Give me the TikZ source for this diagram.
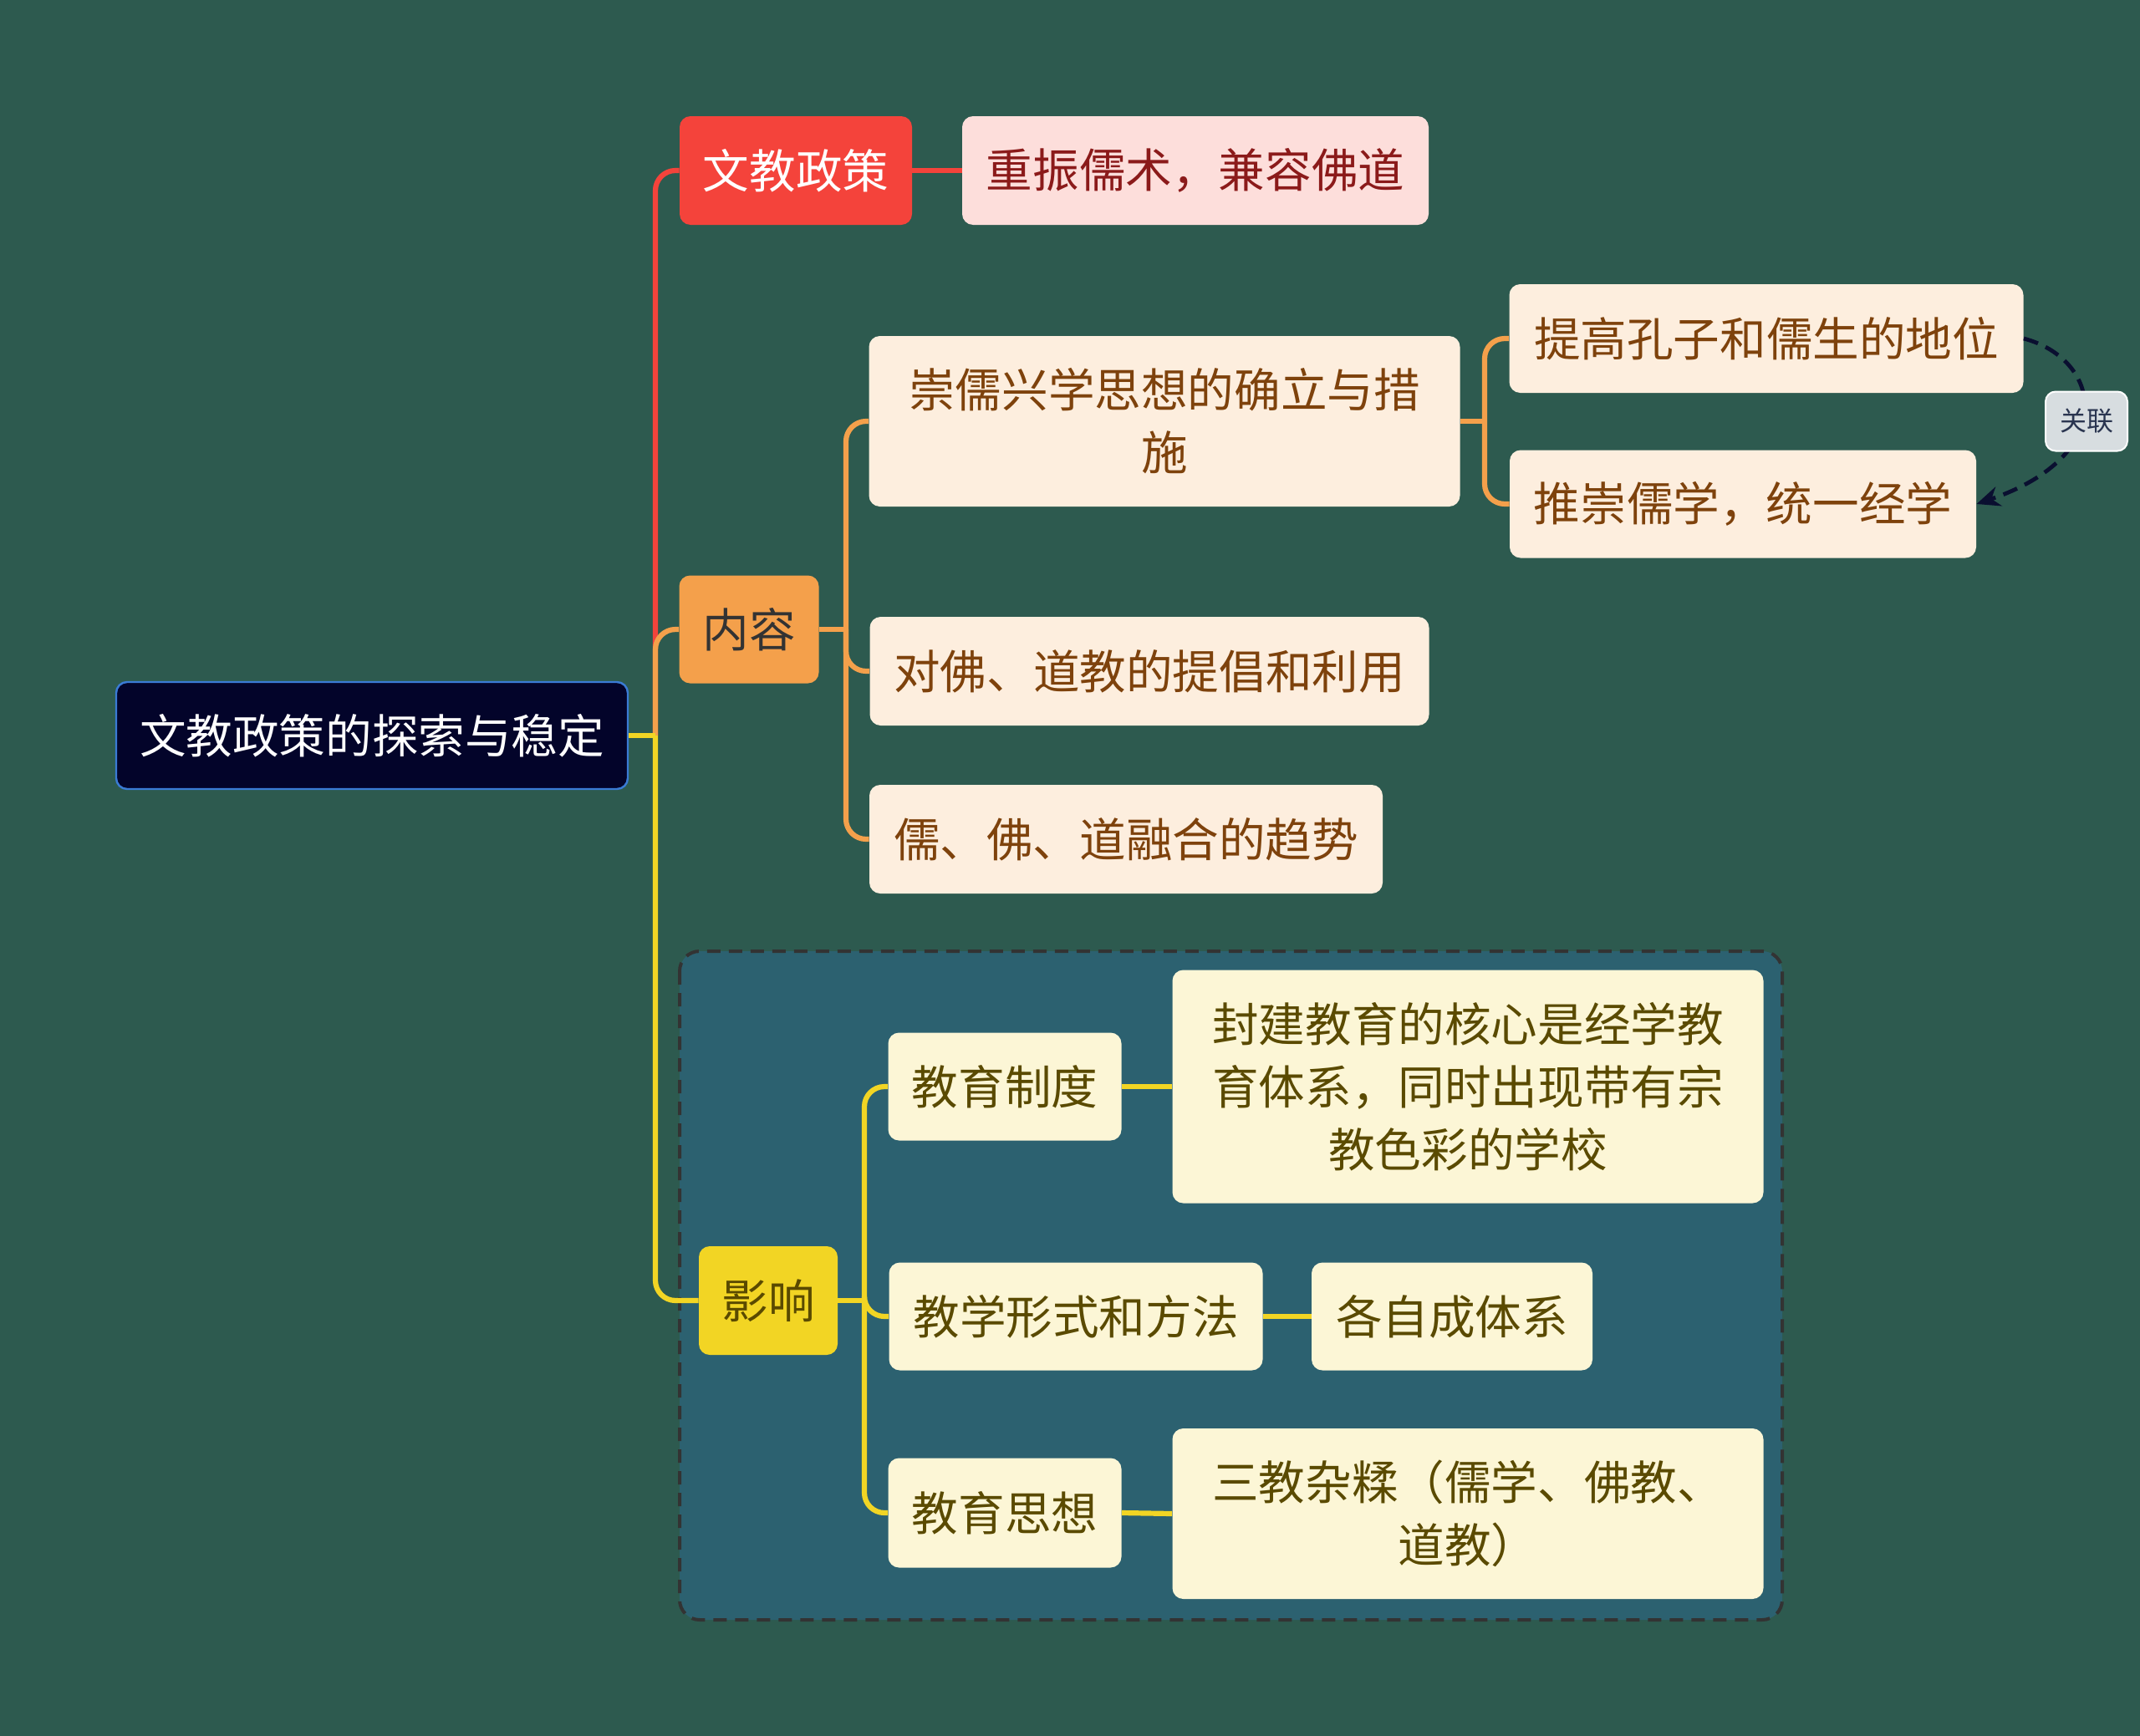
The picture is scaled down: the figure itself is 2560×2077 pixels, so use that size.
\documentclass[tikz,border=0pt]{standalone}
\usepackage{fontspec}
\setmainfont{Noto Sans CJK SC}
\usetikzlibrary{arrows.meta}
\definecolor{bg}{HTML}{2D5A4F}
\definecolor{redn}{HTML}{F4433B}
\definecolor{redc}{HTML}{FDDEDB}
\definecolor{redt}{HTML}{8B1A1A}
\definecolor{orn}{HTML}{F4A04B}
\definecolor{orc}{HTML}{FDEEDE}
\definecolor{ort}{HTML}{7E420C}
\definecolor{yen}{HTML}{F2D524}
\definecolor{yec}{HTML}{FCF6D6}
\definecolor{yet}{HTML}{5A4A00}
\definecolor{rootf}{HTML}{03042A}
\definecolor{rootb}{HTML}{3A7BD5}
\definecolor{boxf}{HTML}{2C6170}
\definecolor{relc}{HTML}{0A0F30}
\definecolor{relf}{HTML}{D7DDE0}
\definecolor{relt}{HTML}{2A3550}
\tikzset{
  base/.style={rounded corners=6.5pt, inner sep=0pt, align=center,
     font=\fontsize{27.8}{37.5}\selectfont},
  rootbox/.style={base, fill=rootf, draw=rootb, line width=1.2pt, text=white},
  redbox/.style={base, fill=redn, text=white},
  redchild/.style={base, fill=redc, text=redt},
  orbox/.style={base, fill=orn, text=black!80},
  orchild/.style={base, fill=orc, text=ort},
  yebox/.style={base, fill=yen, text=yet},
  yechild/.style={base, fill=yec, text=yet},
  conn/.style={line width=3.1pt, rounded corners=12pt},
  rcon/.style={conn, draw=redn},
  ocon/.style={conn, draw=orn},
  ycon/.style={conn, draw=yen},
  rel/.style={draw=relc, line width=2.4pt, dash pattern=on 9pt off 5pt, -{Stealth[length=14pt,width=12pt]}},
  relbox/.style={rounded corners=6pt, fill=relf, draw=white, line width=1pt,
     text=relt, font=\fontsize{16}{18}\selectfont, inner sep=0pt}
}
\begin{document}
\begin{tikzpicture}[x=0.5pt,y=-0.5pt]
\fill[bg] (0,0) rectangle (2560,2077);
\useasboundingbox (0,0) rectangle (2560,2077);
% dashed summary box
\draw[fill=boxf, draw=black!80, line width=2pt, dash pattern=on 8pt off 5pt, rounded corners=12pt]
  (813,1138) rectangle (2132,1938);

% nodes
\node[rootbox, minimum width=306pt, minimum height=64pt] (root) at (445,880) {文教政策的探索与稳定};
\node[redbox, minimum width=139pt, minimum height=65pt] (wj) at (952,204) {文教政策};
\node[redchild, minimum width=279pt, minimum height=65pt] (cz) at (1430,204) {重振儒术，兼容佛道};
\node[orbox, minimum width=83.5pt, minimum height=64.5pt] (nr) at (896,753) {内容};
\node[orchild, minimum width=353.5pt, minimum height=102pt] (cr) at (1393,504) {崇儒兴学思想的确立与措\\施};
\node[orchild, minimum width=307.5pt, minimum height=65pt] (tg) at (2113,405) {提高孔子和儒生的地位};
\node[orchild, minimum width=279pt, minimum height=64.5pt] (tc) at (2085,603) {推崇儒学，统一经学};
\node[orchild, minimum width=334.5pt, minimum height=65pt] (dz) at (1375,803) {对佛、道教的提倡和利用};
\node[orchild, minimum width=307pt, minimum height=65pt] (rf) at (1347,1004) {儒、佛、道融合的趋势};
\node[yebox, minimum width=83pt, minimum height=65pt] (yx) at (919,1556) {影响};
\node[yechild, minimum width=139.5pt, minimum height=64.5pt] (jyzd) at (1202,1300) {教育制度};
\node[yechild, minimum width=353.5pt, minimum height=139.5pt] (fj) at (1756,1300) {封建教育的核心是经学教\\育体系，同时出现带有宗\\教色彩的学校};
\node[yechild, minimum width=223.5pt, minimum height=64.5pt] (jxxs) at (1287,1575) {教学形式和方法};
\node[yechild, minimum width=168pt, minimum height=64.5pt] (gz) at (1737,1575) {各自成体系};
\node[yechild, minimum width=139.5pt, minimum height=65.5pt] (jysx) at (1202,1810) {教育思想};
\node[yechild, minimum width=353.5pt, minimum height=102pt] (sj) at (1756,1811) {三教杂糅（儒学、佛教、\\道教）};

% junctions
\coordinate (j0) at (784,880);
\coordinate (j1) at (1012,753);
\coordinate (j2) at (1776,504);
\coordinate (j3) at (1034,1556);

% connectors level 1
\draw[rcon] (j0) |- (wj.west);
\draw[ocon] (j0) |- (nr.west);
\draw[ycon] (j0) |- (yx.west);
\draw[ycon] (root.east) -- (j0);
\draw[rcon] (wj.east) -- (cz.west);
% content branch
\draw[ocon] (nr.east) -- (j1);
\draw[ocon] (j1) |- (cr.west);
\draw[ocon] (j1) |- (dz.west);
\draw[ocon] (j1) |- (rf.west);
\draw[ocon] (cr.east) -- (j2);
\draw[ocon] (j2) |- (tg.west);
\draw[ocon] (j2) |- (tc.west);
% influence branch
\draw[ycon] (yx.east) -- (j3);
\draw[ycon] (j3) |- (jyzd.west);
\draw[ycon] (j3) |- (jxxs.west);
\draw[ycon] (j3) |- (jysx.west);
\draw[ycon] (jyzd.east) -- (fj.west);
\draw[ycon] (jxxs.east) -- (gz.west);
\draw[ycon] (jysx.east) -- (sj.west);

% relation
\draw[rel] (tg.east) .. controls (2515,430) and (2535,545) .. (tc.east);
\node[relbox, minimum width=49pt, minimum height=35.5pt] (gl) at (2496,504) {关联};
\end{tikzpicture}
\end{document}
